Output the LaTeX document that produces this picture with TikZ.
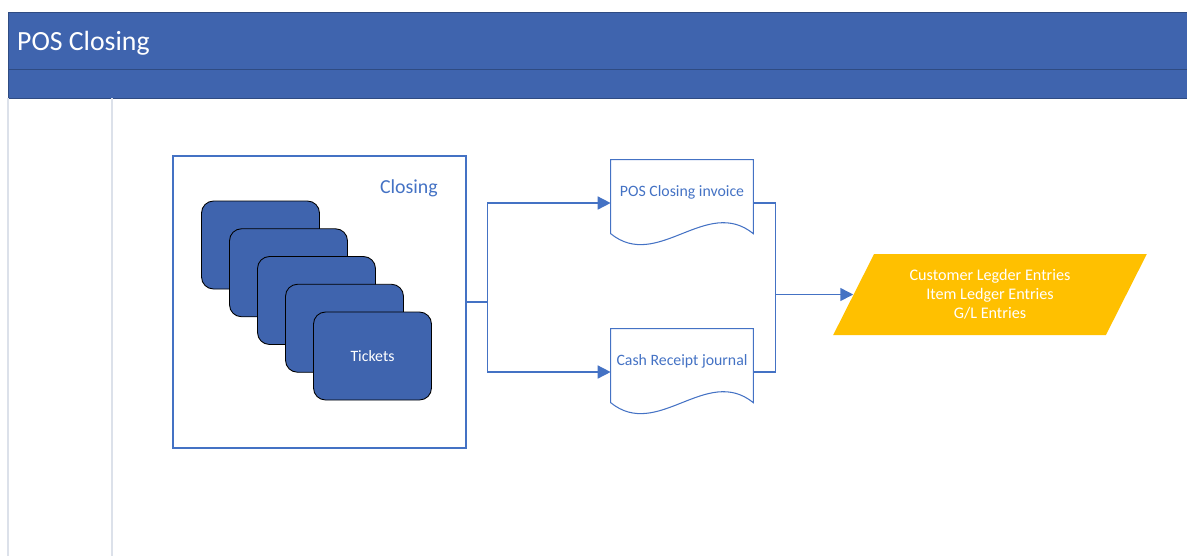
\documentclass[tikz,border=0pt]{standalone}
\usepackage{fontspec}
\setmainfont{Carlito}
\usetikzlibrary{shapes.geometric, arrows.meta, calc, positioning}
\definecolor{laneblue}{HTML}{3F64AE}
\definecolor{flowblue}{HTML}{4472C4}
\definecolor{entryyellow}{HTML}{FFC000}
\definecolor{lanegray}{HTML}{DCE1EA}
\tikzset{
   header/.style={
     fill=laneblue, draw=laneblue!75!black, line width=0.5pt
   },
   laneline/.style={draw=lanegray, line width=0.6pt},
   groupbox/.style={
      draw=flowblue, line width=0.7pt,
      minimum width=5.86cm, minimum height=5.84cm
   },
   ticket/.style={
      fill=laneblue, draw=black, line width=0.5pt, rounded corners=0.24cm,
      minimum width=2.36cm, minimum height=1.76cm,
      text=white, font=\fontsize{9}{10.8}\selectfont
   },
   docshape/.style={
      inner sep=0pt, minimum width=2.84cm,
      text height=0.72cm, text depth=1.0cm,
      text=flowblue, font=\fontsize{9}{10.8}\selectfont
   },
   docline/.style={draw=flowblue, line width=0.6pt},
   entries/.style={
      trapezium, trapezium left angle=63.7, trapezium right angle=116.3,
      trapezium stretches=true, fill=entryyellow,
      minimum width=6.28cm, minimum height=1.62cm,
      align=center, text=white, font=\fontsize{9.2}{10.8}\selectfont
   },
   flowline/.style={draw=flowblue, line width=0.9pt},
   flowarrow/.style={flowline, -{Triangle[length=0.26cm, width=0.26cm]}}
}
% outline of a document symbol round a docshape node
\newcommand{\docoutline}[1]{
   \draw[docline] (#1.north west) -- (#1.north east) -- ($(#1.north east)+(0,74)$)
      .. controls ($(#1.north east)+(-47,36)$) and ($(#1.north west)+(47,112)$)
      .. ($(#1.north west)+(0,74)$) -- cycle;
}
\begin{document}
\begin{tikzpicture}[x=0.02cm, y=-0.02cm]
   \useasboundingbox (0,0) rectangle (1187,556);

   % pool header and lanes
   \draw[header] (8,12) rectangle (1187,69);
   \draw[header] (8,69) rectangle (1187,98);
   \node[anchor=base west, text=white, font=\fontsize{15.8}{19}\selectfont](pool) at (11,50) {POS Closing};
   \draw[laneline] (8,98) -- (8,556);
   \draw[laneline] (112,98) -- (112,556);

   % closing group with the stack of tickets
   \node[groupbox](closing) at (319.5,302) {};
   \node[anchor=base east, text=flowblue, font=\fontsize{11.3}{13.5}\selectfont](closinglabel) at (444,193) {Closing};
   \foreach \i in {0,...,3}
      \node[ticket](ticket\i) at ({260.5+28*\i},{245+27.75*\i}) {};
   \node[ticket](ticket4) at (372.5,356) {Tickets};

   % documents
   \node[docshape](invoice) at (682,203) {POS Closing invoice};
   \node[docshape](journal) at (682,372) {Cash Receipt journal};
   \docoutline{invoice}
   \docoutline{journal}

   % posted entries
   \node[entries](ledger) at (990,294.5) {Customer Legder Entries\\Item Ledger Entries\\G/L Entries};

   \draw[flowarrow] (closing.east) -- ++(21,0) |- (invoice.west);
   \draw[flowarrow] (closing.east) -- ++(21,0) |- (journal.west);
   \coordinate (merge) at ($(invoice.east)+(22,0)$);
   \draw[flowline] (invoice.east) -- (merge) |- (journal.east);
   \draw[flowarrow] (merge |- ledger.left side) -- (ledger.left side);
\end{tikzpicture}
\end{document}
